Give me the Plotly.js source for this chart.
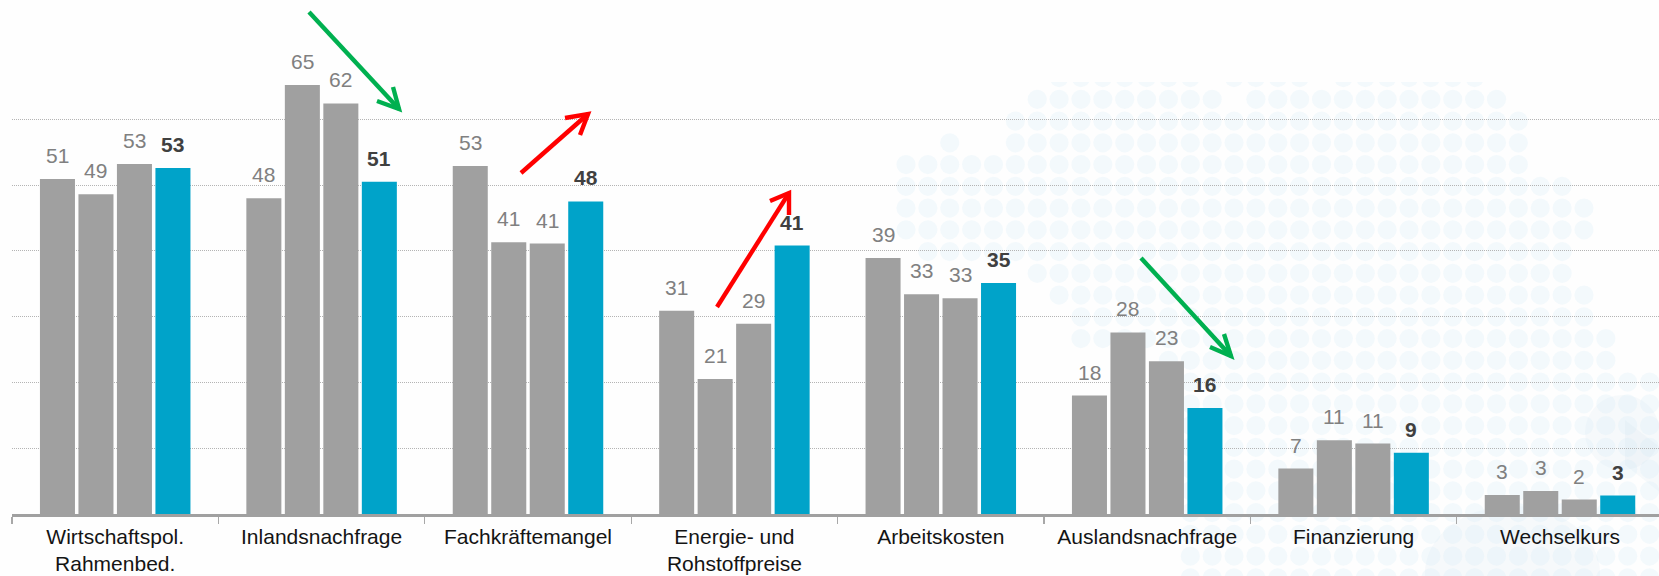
<!DOCTYPE html>
<html>
<head>
<meta charset="utf-8">
<script src="https://cdn.plot.ly/plotly-3.0.1.min.js"></script>
<style>html,body{margin:0;padding:0;background:#fefefe;overflow:hidden}</style>
</head>
<body>
<div id="chart" style="width:1659px;height:576px"></div>
<script>
const categories = ["Wirtschaftspol.<br>Rahmenbed.", "Inlandsnachfrage", "Fachkräftemangel", "Energie- und<br>Rohstoffpreise", "Arbeitskosten", "Auslandsnachfrage", "Finanzierung", "Wechselkurs"];
const series1 = [50.9, 48.0, 52.9, 30.9, 38.9, 18.0, 6.9, 2.9];
const series2 = [48.6, 65.2, 41.3, 20.5, 33.4, 27.6, 11.2, 3.5];
const series3 = [53.2, 62.4, 41.1, 28.9, 32.8, 23.2, 10.7, 2.2];
const series4 = [52.6, 50.5, 47.5, 40.8, 35.1, 16.1, 9.3, 2.8];
const labels1 = ["51", "48", "53", "31", "39", "18", "7", "3"];
const labels2 = ["49", "65", "41", "21", "33", "28", "11", "3"];
const labels3 = ["53", "62", "41", "29", "33", "23", "11", "2"];
const labels4 = ["53", "51", "48", "41", "35", "16", "9", "3"];
const gridValues = [10, 20, 30, 40, 50, 60];

// Trend arrows: [start, tip, barb A, barb B] in page pixels
const arrowsGreen = [
  [[309, 12], [399, 109], [393, 87], [377, 101]],
  [[1141, 258], [1231, 356], [1224, 334], [1210, 347]]
];
const arrowsRed = [
  [[521, 173], [588, 114], [580, 135], [565, 118]],
  [[717, 307], [789, 193], [789, 215], [770, 201]]
];

// Watermark dot map: [row, firstColumn, lastColumn]
const dotRows = [
  [-1, 7, 13], [-1, 15, 18], [-1, 20, 26],
  [0, 6, 14], [0, 16, 27], [1, 5, 28], [2, 2, 2], [2, 5, 28],
  [3, 0, 28], [4, 0, 30], [5, 0, 31], [6, 0, 31], [7, 1, 30],
  [8, 6, 30], [9, 7, 31], [10, 8, 31], [11, 8, 32], [12, 12, 32],
  [13, 13, 35], [14, 13, 35], [15, 13, 35], [16, 13, 35], [17, 13, 35],
  [18, 13, 35], [19, 13, 35], [20, 13, 35], [21, 13, 35], [22, 13, 35]
];

const W = 1659, H = 576, L = 12, T = 0, B = 514;
const px = x => (x - L) / (W - L);
const py = y => (B - y) / (B - T);
const unit = 206.4, pitch = 38.5;

const shapes = [];
// faint larger watermark forms, lower right
shapes.push({type: "circle", xref: "paper", yref: "paper", layer: "below",
  x0: px(1585), x1: px(1660), y0: py(470), y1: py(395), fillcolor: "rgba(190,215,235,0.13)", line: {width: 0}});
shapes.push({type: "path", xref: "paper", yref: "paper", layer: "below",
  path: `M${px(1625)},${py(420)} L${px(1670)},${py(455)} L${px(1670)},${py(500)} L${px(1625)},${py(465)} Z`,
  fillcolor: "rgba(190,215,235,0.13)", line: {width: 0}});
shapes.push({type: "circle", xref: "paper", yref: "paper", layer: "below",
  x0: px(1425), x1: px(1600), y0: py(640), y1: py(506), fillcolor: "rgba(190,215,235,0.13)", line: {width: 0}});
dotRows.forEach(([r, a, b]) => {
  for (let i = a; i <= b; i++) {
    const cx = 906 + 21.87 * i, cy = 99.3 + 21.75 * r, rad = 9.6;
    shapes.push({type: "circle", xref: "paper", yref: "paper", layer: "below",
      x0: px(cx - rad), x1: px(cx + rad), y0: py(cy + rad), y1: py(cy - rad),
      fillcolor: "rgba(205,232,248,0.22)", line: {width: 0}});
  }
});
// mask above the clipped first dot row
shapes.push({type: "rect", xref: "paper", yref: "paper", layer: "below",
  x0: px(880), x1: px(1520), y0: py(82), y1: py(60), fillcolor: "#fefefe", line: {width: 0}});

function addArrows(list, color) {
  list.forEach(([s, t, a, b]) => {
    shapes.push({type: "path", xref: "paper", yref: "paper", layer: "above",
      path: `M${px(s[0])},${py(s[1])} L${px(t[0])},${py(t[1])}`,
      line: {color: color, width: 4.4}});
    shapes.push({type: "path", xref: "paper", yref: "paper", layer: "above",
      path: `M${px(a[0])},${py(a[1])} L${px(t[0])},${py(t[1])} L${px(b[0])},${py(b[1])}`,
      line: {color: color, width: 4.4}});
  });
}
addArrows(arrowsGreen, "#00b050");
addArrows(arrowsRed, "#ff0000");

const allSeries = [series1, series2, series3, series4];
const allLabels = [labels1, labels2, labels3, labels4];
const traces = allSeries.map((vals, s) => ({
  type: "bar", x: categories, y: vals,
  marker: {color: s === 3 ? "#00a3c9" : "#a0a0a0", line: {width: 0}},
  hoverinfo: "skip"
}));

const annotations = [];
allSeries.forEach((vals, s) => vals.forEach((v, i) => {
  annotations.push({
    x: categories[i], y: v, xref: "x", yref: "y", showarrow: false,
    text: s === 3 ? "<b>" + allLabels[s][i] + "</b>" : allLabels[s][i],
    xanchor: "center", yanchor: "bottom",
    xshift: (s - 1.5) * pitch, yshift: 10,
    font: {family: "Liberation Sans, Arial, sans-serif", size: 21, color: s === 3 ? "#404040" : "#808080"}
  });
}));

const layout = {
  width: W, height: H,
  margin: {l: L, r: 0, t: T, b: H - B, pad: 0},
  paper_bgcolor: "#fefefe", plot_bgcolor: "rgba(0,0,0,0)",
  barmode: "group", bargap: 0.254, bargroupgap: 0.09,
  showlegend: false,
  font: {family: "Liberation Sans, Arial, sans-serif"},
  xaxis: {
    type: "category", categoryorder: "array", categoryarray: categories,
    range: [-0.5, -0.5 + (W - L) / unit], fixedrange: true,
    tickson: "boundaries", ticks: "outside", ticklen: 7, tickwidth: 1.2, tickcolor: "#a8a8a8",
    showline: true, linecolor: "#a0a0a0", linewidth: 2.5, showgrid: false,
    tickfont: {family: "Liberation Sans, Arial, sans-serif", size: 21, color: "#141414"},
    ticklabelstandoff: 2,
    tickangle: 0, automargin: false
  },
  yaxis: {
    range: [0, 514 / 6.58], tickmode: "array", tickvals: gridValues, ticktext: gridValues.map(String), fixedrange: true,
    showgrid: true, gridcolor: "#b4b4b4", gridwidth: 1, griddash: "1px,1px",
    zeroline: false, showticklabels: false, ticks: "", showline: false, automargin: false
  },
  shapes: shapes, annotations: annotations
};

Plotly.newPlot("chart", traces, layout, {displayModeBar: false, staticPlot: true});
</script>
</body>
</html>
